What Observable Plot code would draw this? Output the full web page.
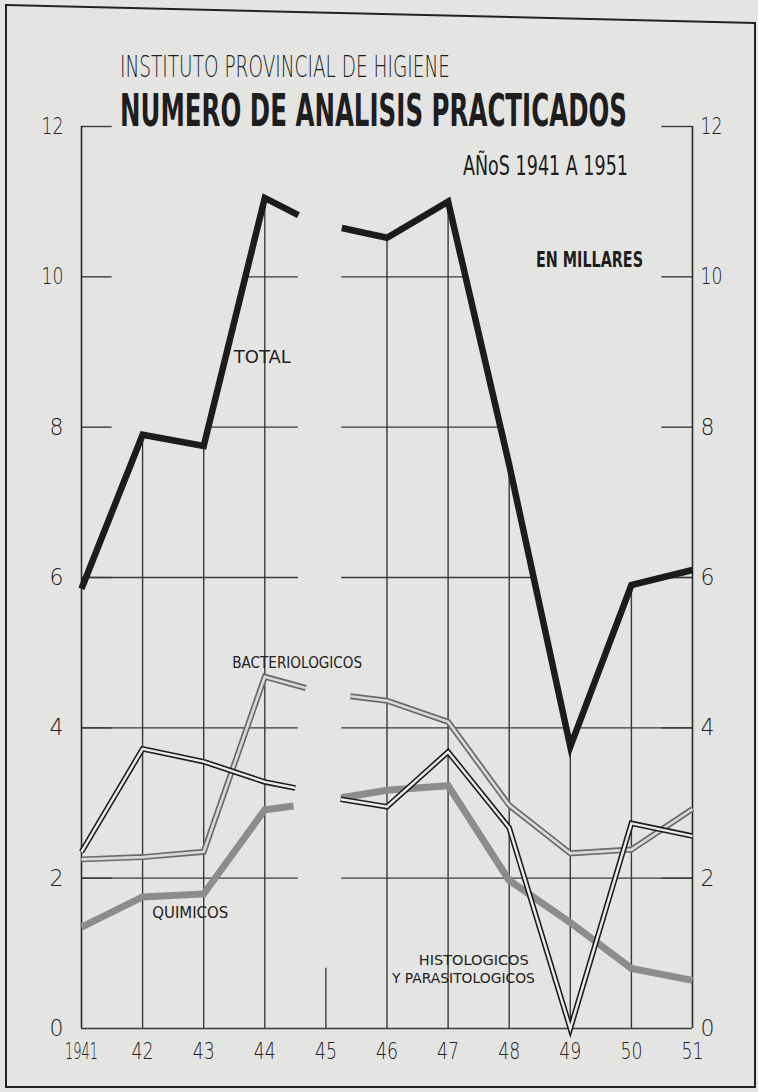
<!DOCTYPE html>
<html>
<head>
<meta charset="utf-8">
<script src="https://cdn.jsdelivr.net/npm/d3@7"></script>
<script src="https://cdn.jsdelivr.net/npm/@observablehq/plot@0.6"></script>
<style>
  html, body { margin: 0; padding: 0; background: #e4e4e2; }
  #wrap { position: relative; width: 758px; height: 1092px; overflow: hidden; background: #e4e4e2; }
  #chart { position: absolute; left: 0; top: 0; }
  .b { position: absolute; background: #222; }
  .t { position: absolute; white-space: nowrap; transform-origin: 0 0; color: #1e1e1e;
       font-family: "DejaVu Sans", "Noto Sans", sans-serif; line-height: 1; display: inline-block; }
</style>
</head>
<body>
<div id="wrap">
  <div id="chart"></div>
  <div class="b" style="left:5px;top:4px;width:2px;height:1084px;"></div>
  <div class="b" style="left:754px;top:22px;width:2px;height:1066px;"></div>
  <div class="b" style="left:5px;top:1086px;width:751px;height:2px;"></div>
  <div class="b" style="left:5px;top:4px;width:751px;height:2px;transform-origin:0 0;transform:rotate(1.37deg);"></div>
  <span class="t" data-w="330" style="left:120px;top:52px;font-size:30px;font-weight:300;">INSTITUTO PROVINCIAL DE HIGIENE</span>
  <span class="t" data-w="507" style="left:120px;top:89px;font-size:44px;font-weight:700;">NUMERO DE ANALISIS PRACTICADOS</span>
  <span class="t" data-w="165" style="left:463px;top:152px;font-size:27px;font-weight:400;">AÑoS 1941 A 1951</span>
  <span class="t" data-w="107" style="left:536px;top:250px;font-size:21px;font-weight:700;">EN MILLARES</span>
</div>
<script>
// ---------- data ----------
const years = [1941, 1942, 1943, 1944, 1945, 1946, 1947, 1948, 1949, 1950, 1951];
const yearLabels = ["1941", "42", "43", "44", "45", "46", "47", "48", "49", "50", "51"];
const yTicks = [0, 2, 4, 6, 8, 10, 12];

// each series breaks around 1945 (no value for that year)
const totalYears  = [1941, 1942, 1943, 1944, 1944.55, 1945, 1945.26, 1946, 1947, 1948, 1949, 1950, 1951];
const totalValues = [5.85, 7.9, 7.75, 11.05, 10.82, NaN, 10.65, 10.52, 11.0, 7.5, 3.75, 5.9, 6.1];

const bactYears  = [1941, 1942, 1943, 1944, 1944.67, 1945, 1945.4, 1946, 1947, 1948, 1949, 1950, 1951];
const bactValues = [2.25, 2.28, 2.35, 4.68, 4.53, NaN, 4.42, 4.36, 4.08, 2.97, 2.33, 2.38, 2.92];

const histoYears  = [1941, 1942, 1943, 1944, 1944.5, 1945, 1945.24, 1946, 1947, 1948, 1949, 1950, 1951];
const histoValues = [2.35, 3.72, 3.55, 3.28, 3.2, NaN, 3.05, 2.95, 3.68, 2.67, 0, 2.73, 2.56];

const quimYears  = [1941, 1942, 1943, 1944, 1944.47, 1945, 1945.25, 1946, 1947, 1948, 1949, 1950, 1951];
const quimValues = [1.35, 1.75, 1.79, 2.91, 2.96, NaN, 3.07, 3.17, 3.23, 1.97, 1.41, 0.8, 0.64];

const labelTexts  = ["TOTAL", "BACTERIOLOGICOS", "QUIMICOS", "HISTOLOGICOS", "Y PARASITOLOGICOS"];
const labelYears  = [1943.96, 1944.53, 1942.78, 1947.42, 1947.25];
const labelValues = [8.93, 4.86, 1.54, 0.9, 0.67];

// ---------- styles ----------
const labelStyle = {
  "TOTAL": {size: 17, w: 57},
  "BACTERIOLOGICOS": {size: 16, w: 130},
  "QUIMICOS": {size: 15, w: 76},
  "HISTOLOGICOS": {size: 14, w: 110},
  "Y PARASITOLOGICOS": {size: 14, w: 143}
};
const gapTick = 0.8;    // height of the lone tick at 1945
const tickLen = 0.5;    // length of axis ticks, in years
const ink = "#222";

// ---------- derived geometry ----------
function above(xs, vs, L) {
  const out = []; let cur = null;
  const push = (a, b) => {
    if (cur && Math.abs(cur[1] - a) < 1e-9) cur[1] = b;
    else { if (cur) out.push(cur); cur = [a, b]; }
  };
  for (let i = 0; i < xs.length - 1; i++) {
    const x0 = xs[i], x1 = xs[i + 1], v0 = vs[i], v1 = vs[i + 1];
    if (!isFinite(v0) || !isFinite(v1)) continue;
    if (v0 >= L && v1 >= L) push(x0, x1);
    else if (v0 >= L) push(x0, x0 + (x1 - x0) * (v0 - L) / (v0 - v1));
    else if (v1 >= L) push(x0 + (x1 - x0) * (L - v0) / (v1 - v0), x1);
  }
  if (cur) out.push(cur);
  return out;
}
const hGrid = [];
for (const L of yTicks.filter(d => d > 0 && d < 12)) {
  for (const [a, b] of above(totalYears, totalValues, L)) hGrid.push({y: L, x1: a, x2: b});
}
const hTicks = [];
for (const L of yTicks.filter(d => d > 0)) {
  hTicks.push({y: L, x1: years[0], x2: years[0] + tickLen});
  hTicks.push({y: L, x1: years[years.length - 1] - tickLen, x2: years[years.length - 1]});
}
const vGrid = years.slice(1, -1).map(yr => {
  const i = totalYears.indexOf(yr);
  const v = i >= 0 ? totalValues[i] : NaN;
  return {x: yr, y2: isFinite(v) ? v : gapTick};
});
const axesV = [years[0], years[years.length - 1]];

const toRows = (xs, vs) => xs.map((x, i) => ({x, v: vs[i]}));
const total = toRows(totalYears, totalValues);
const bact = toRows(bactYears, bactValues);
const histo = toRows(histoYears, histoValues);
const quim = toRows(quimYears, quimValues);
const labels = labelTexts.map((t, i) => ({t, x: labelYears[i], y: labelValues[i]}));

const lineOpts = (stroke, w) => ({x: "x", y: "v", stroke, strokeWidth: w, strokeLinejoin: "miter", strokeMiterlimit: 6, strokeLinecap: "butt"});

const chart = Plot.plot({
  width: 758, height: 1092,
  marginLeft: 81, marginRight: 66, marginTop: 126, marginBottom: 64,
  x: {domain: [1941, 1951], axis: null},
  y: {domain: [0, 12], axis: null},
  style: {background: "transparent", fontFamily: "DejaVu Sans, sans-serif", overflow: "visible", color: ink},
  marks: [
    Plot.ruleY(hGrid, {y: "y", x1: "x1", x2: "x2", stroke: "#3a3a3a", strokeWidth: 1.4}),
    Plot.ruleY(hTicks, {y: "y", x1: "x1", x2: "x2", stroke: "#3a3a3a", strokeWidth: 1.4}),
    Plot.ruleY([0], {x1: () => years[0], x2: () => years[years.length - 1], stroke: "#3a3a3a", strokeWidth: 1.4}),
    Plot.ruleX(vGrid, {x: "x", y1: () => 0, y2: "y2", stroke: "#3a3a3a", strokeWidth: 1.4}),
    Plot.ruleX(axesV, {x: d => d, y1: () => 0, y2: () => 12, stroke: "#2a2a2a", strokeWidth: 1.6}),
    // quimicos: thick grey
    Plot.line(quim, lineOpts("#8c8c8c", 7)),
    // bacteriologicos: grey double line
    Plot.line(bact, lineOpts("#6a6a6a", 6)),
    Plot.line(bact, lineOpts("#d9d9d7", 2.6)),
    // histologicos: black double line
    Plot.line(histo, lineOpts("#1e1e1e", 5.6)),
    Plot.line(histo, lineOpts("#ebebe9", 2.4)),
    // total: thick black
    Plot.line(total, lineOpts("#1c1c1c", 6.5)),
    // tick labels
    Plot.text(yTicks, {x: () => years[0], y: d => d, text: d => String(d), dx: -18, textAnchor: "end", lineAnchor: "middle", fontSize: 23, fontWeight: 300, fill: ink}),
    Plot.text(yTicks, {x: () => years[years.length - 1], y: d => d, text: d => String(d), dx: 8, textAnchor: "start", lineAnchor: "middle", fontSize: 23, fontWeight: 300, fill: ink}),
    Plot.text(years, {x: d => d, y: () => 0, text: (d, i) => yearLabels[i], dy: 23, textAnchor: "middle", lineAnchor: "middle", fontSize: 23, fontWeight: 300, fill: ink}),
    // series labels
    Plot.text(labels, {x: "x", y: "y", text: "t", textAnchor: "middle", lineAnchor: "middle",
      fontSize: d => labelStyle[d.t].size, fill: ink})
  ]
});
document.getElementById("chart").appendChild(chart);

// condense lettering like the hand-drawn original
chart.querySelectorAll("text").forEach(el => {
  const s = el.textContent;
  let w = null;
  if (labelStyle[s]) w = labelStyle[s].w;
  else if (s === "1941") w = 33;
  else if (/^\d\d$/.test(s)) w = 22;
  else if (/^\d$/.test(s)) w = 14;
  if (w) { el.setAttribute("textLength", w); el.setAttribute("lengthAdjust", "spacingAndGlyphs"); }
});
document.querySelectorAll(".t").forEach(el => {
  const target = +el.dataset.w;
  const w = el.getBoundingClientRect().width;
  if (w > 0) el.style.transform = `scaleX(${target / w})`;
});
</script>
</body>
</html>
